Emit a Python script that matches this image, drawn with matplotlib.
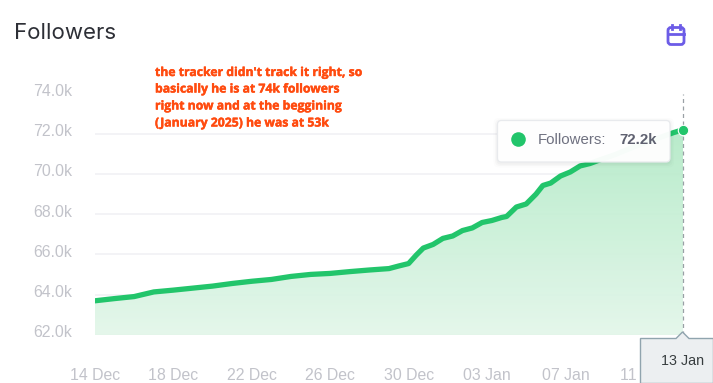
import numpy as np
import matplotlib
matplotlib.use("Agg")
import matplotlib.pyplot as plt
from matplotlib.colors import LinearSegmentedColormap
from matplotlib.patches import FancyBboxPatch, Polygon, Circle
from matplotlib.lines import Line2D
from matplotlib.transforms import ScaledTranslation
import matplotlib.patheffects as pe

days = [0,1,2,3,4,5,6,7,8,9,10,11,12,13,14,15,15.5,16,16.4,16.75,17.25,17.75,18.25,18.75,19.25,19.75,
        20.25,20.75,21,21.5,22,22.5,22.85,23.25,23.75,24.25,24.75,25.25,25.75,26.5,27.5,28.5,29.5,30]
followers = [63.70,63.81,63.91,64.14,64.23,64.33,64.43,64.56,64.67,64.76,64.91,65.01,65.06,65.15,
             65.23,65.30,65.43,65.55,65.98,66.32,66.5,66.8,66.92,67.19,67.32,67.59,67.69,67.84,67.89,68.36,
             68.51,69.0,69.43,69.55,69.9,70.1,70.4,70.52,70.7,70.95,71.35,71.7,72.05,72.2]
x_ticks = [0,4,8,12,16,20,24,28]
x_labels = ["14 Dec","18 Dec","22 Dec","26 Dec","30 Dec","03 Jan","07 Jan","11 Jan"]
y_ticks = [62,64,66,68,70,72,74]
y_labels = ["62.0k","64.0k","66.0k","68.0k","70.0k","72.0k","74.0k"]
note_lines = ["the tracker didn't track it right, so",
              "basically he is at 74k followers",
              "right now and at the beggining",
              "(January 2025) he was at 53k"]

W, H = 713, 383
fig = plt.figure(figsize=(W/100, H/100), dpi=100, facecolor="white")
ax = fig.add_axes([95/W, (H-335)/H, (683-95)/W, (335-93.5)/H])
ax.set_xlim(0, 30); ax.set_ylim(62, 74)
ax.patch.set_alpha(0)
for s in ax.spines.values():
    s.set_visible(False)
ax.set_xticks(x_ticks, x_labels); ax.set_yticks(y_ticks, y_labels)
ax.tick_params(length=0, labelsize=11.4, labelcolor="#c2c3ca")
ax.tick_params(axis="y", pad=16.5)
ax.tick_params(axis="x", pad=24)
for t in ax.get_xticklabels() + ax.get_yticklabels():
    t.set_fontfamily("Liberation Sans")
for t in ax.get_yticklabels():
    t.set_transform(t.get_transform() + ScaledTranslation(0, 3.5/100, fig.dpi_scale_trans))
ax.grid(axis="y", color="#f0f0f4", lw=1.1, zorder=0)
ax.set_axisbelow(True)

cmap = LinearSegmentedColormap.from_list("g", ["#e3f7ea", "#b3eac7"])
poly = ax.fill_between(days, followers, 62, color="none")
im = ax.imshow(np.linspace(1, 0, 256).reshape(-1, 1), cmap=cmap, aspect="auto",
               extent=[0, 30, 62, max(followers)], zorder=1, alpha=0.93)
im.set_clip_path(poly.get_paths()[0], transform=ax.transData)
ax.set_xlim(0, 30); ax.set_ylim(62, 74)
ax.plot(days, followers, color="#22c56b", lw=3.8, solid_joinstyle="round",
        solid_capstyle="round", zorder=3)
ax.axvline(30, color="#9aa0a6", lw=0.9, ls=(0, (3.2, 2.8)), zorder=4, clip_on=False)
ax.plot(days[-1:], followers[-1:], "o", ms=7.5, mfc="#22c56b", mec="white", mew=0.8,
        zorder=6, clip_on=False)

ov = fig.add_axes([0, 0, 1, 1], zorder=5)
ov.set_xlim(0, W); ov.set_ylim(H, 0); ov.axis("off"); ov.patch.set_alpha(0)

ov.text(14, 33, "Followers", fontsize=16, family="Inter", color="#2d2f36", va="center", ha="left")
for line, yy in zip(note_lines, [72.5, 89, 106, 123]):
    ov.text(155, yy, line, fontsize=8.8, family="Open Sans", weight="bold", color="#ff4b0f",
            va="center", ha="left", path_effects=[pe.withStroke(linewidth=0.3, foreground="#ff4b0f")])

for g, a in [(4, .012), (2.5, .018), (1.2, .025)]:
    ov.add_patch(FancyBboxPatch((497.5-g, 120.5-g+1.5), 172.5+2*g, 41.5+2*g,
                                boxstyle="round,pad=0,rounding_size=5", fc="black", ec="none", alpha=a))
ov.add_patch(FancyBboxPatch((497.5, 120.5), 172.5, 41.5, boxstyle="round,pad=0,rounding_size=4",
                            fc="white", ec="#e8eaed", lw=0.9, alpha=0.97))
ov.add_patch(Circle((518.5, 139.5), 7.3, fc="#22c56b", ec="none"))
ov.text(538, 140, "Followers:", fontsize=10.8, family="Liberation Sans", color="#6f7180", va="center")
ov.text(619, 140, "72.2k", fontsize=10.8, family="Liberation Sans", weight="bold", color="#5f6170", va="center")

ov.add_patch(Polygon([(640.5, 383.5), (640.5, 338.5), (676, 338.5), (682.5, 332), (689, 338.5),
                      (713.5, 338.5), (713.5, 383.5)], closed=True, fc="#eceff1", ec="#90a4ae", lw=1))
ov.text(683, 361, "13 Jan", fontsize=10.3, family="Liberation Sans", color="#373d3f", ha="center", va="center")

c = "#6c5ce7"
ov.add_patch(FancyBboxPatch((668, 27.5), 16, 17, boxstyle="round,pad=0,rounding_size=3", fc="none", ec=c, lw=2))
ov.add_line(Line2D([668, 684], [33.5, 33.5], color=c, lw=2))
ov.add_line(Line2D([672, 672], [25, 29], color=c, lw=2))
ov.add_line(Line2D([680, 680], [25, 29], color=c, lw=2))

fig.savefig("out.png", dpi=100)
